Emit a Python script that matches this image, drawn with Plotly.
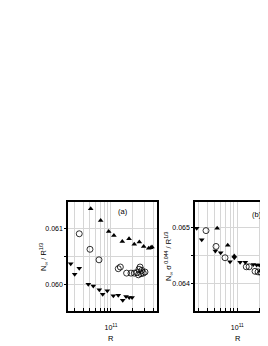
import plotly.graph_objects as go

# page body has an 8px default margin, so the figure is drawn 8px right/down
OFF = 8
W, H = 268 - OFF, 346 - OFF

# ---------------- data: panel (a) ----------------
a_up_R = [5.13e10, 7.12e10, 9.27e10, 1.10e11, 1.45e11, 1.81e11, 2.15e11, 2.54e11,
          2.93e11, 3.46e11, 3.69e11, 3.85e11]
a_up_N = [0.06136, 0.06115, 0.06095, 0.06088, 0.06077, 0.06082, 0.06072, 0.06076,
          0.06068, 0.06065, 0.06066, 0.06067]

a_circ_R = [3.52e10, 5.01e10, 6.74e10, 1.27e11, 1.36e11, 1.67e11, 1.93e11, 2.15e11,
            2.35e11, 2.51e11, 2.60e11, 2.75e11, 2.89e11, 2.68e11, 2.46e11, 3.06e11]
a_circ_N = [0.06091, 0.06063, 0.06044, 0.06028, 0.06031, 0.06020, 0.06020, 0.06020,
            0.06021, 0.06027, 0.06031, 0.06025, 0.06020, 0.06019, 0.06017, 0.06022]

a_down_R = [2.66e10, 3.03e10, 3.52e10, 4.74e10, 5.59e10, 6.81e10, 7.61e10, 8.85e10,
            1.08e11, 1.27e11, 1.47e11, 1.64e11, 1.82e11, 2.00e11]
a_down_N = [0.06037, 0.06018, 0.06029, 0.06000, 0.05997, 0.05990, 0.05982, 0.05988,
            0.05979, 0.05980, 0.05971, 0.05978, 0.05976, 0.05976]

# ---------------- data: panel (b) ----------------
b_up_R = [5.37e10, 7.44e10, 9.10e10, 2.02e11]
b_up_N = [0.06498, 0.06468, 0.06449, 0.06422]

b_circ_R = [3.80e10, 5.18e10, 6.84e10, 1.32e11, 1.44e11, 1.73e11, 1.90e11, 2.08e11,
            2.28e11, 2.43e11]
b_circ_N = [0.06494, 0.06466, 0.06446, 0.06430, 0.06430, 0.06422, 0.06421, 0.06420,
            0.06427, 0.06430]

b_down_R = [2.85e10, 3.33e10, 5.07e10, 5.98e10, 7.98e10, 9.12e10, 1.09e11, 1.28e11,
            1.64e11, 1.82e11, 1.97e11]
b_down_N = [0.06498, 0.06478, 0.06458, 0.06455, 0.06439, 0.06446, 0.06438, 0.06438,
            0.06434, 0.06433, 0.06433]

# ticks
minor_R = [d * 10.0**e for e in (10, 11) for d in range(1, 10)]
x_tick_text = ["10<sup>11</sup>" if v == 1e11 else "" for v in minor_R]
a_yticks = [0.0600, 0.0605, 0.0610]
a_ytext = ["0.060", "", "0.061"]
b_yticks = [0.0640, 0.0645, 0.0650]
b_ytext = ["0.064", "", "0.065"]

FONT = "Liberation Sans, Arial, sans-serif"


def px(x):
    return (x - OFF) / W


def py(y):
    return 1 - (y - OFF) / H


fig = go.Figure()


def add_series(R, N, sym, xa, ya, size, lw=0):
    fig.add_trace(go.Scatter(
        x=R, y=N, mode="markers", xaxis=xa, yaxis=ya, cliponaxis=False,
        marker=dict(symbol=sym, size=size, color="black",
                    line=dict(color="black", width=lw)),
        showlegend=False))


add_series(a_up_R, a_up_N, "triangle-up", "x", "y", 5)
add_series(a_circ_R, a_circ_N, "circle-open", "x", "y", 6, lw=0.8)
add_series(a_down_R, a_down_N, "triangle-down", "x", "y", 5)
add_series(b_up_R, b_up_N, "triangle-up", "x2", "y2", 5)
add_series(b_circ_R, b_circ_N, "circle-open", "x2", "y2", 6, lw=0.8)
add_series(b_down_R, b_down_N, "triangle-down", "x2", "y2", 5)

axis_common = dict(showline=True, linecolor="black", linewidth=1.5,
                   showgrid=True, gridcolor="#d6d6d6", gridwidth=1,
                   zeroline=False, automargin=False,
                   tickfont=dict(family=FONT, size=7, color="black"),
                   tickcolor="black", tickwidth=1)

y_bot, y_top = 311, 202

fig.update_layout(
    width=W, height=H, margin=dict(l=0, r=0, t=0, b=0),
    paper_bgcolor="white", plot_bgcolor="white",
    xaxis=dict(type="log", domain=[px(68), px(157)],
               range=[10.386, 11.657], tickmode="array", tickvals=minor_R,
               ticktext=x_tick_text, ticks="inside", ticklen=3, mirror=True,
               ticklabelstandoff=9, anchor="y", **axis_common),
    yaxis=dict(domain=[py(y_bot), py(y_top)], range=[0.059517, 0.061483],
               tickmode="array", tickvals=a_yticks, ticktext=a_ytext,
               ticks="outside", ticklen=2, mirror=True, anchor="x", **axis_common),
    xaxis2=dict(type="log", domain=[px(195), 1.0],
                range=[10.432, 11.412], tickmode="array", tickvals=minor_R,
                ticktext=x_tick_text, ticks="inside", ticklen=3, mirror=True,
                ticklabelstandoff=9, anchor="y2", **axis_common),
    yaxis2=dict(domain=[py(y_bot), py(y_top)], range=[0.063518, 0.065446],
                tickmode="array", tickvals=b_yticks, ticktext=b_ytext,
                ticks="outside", ticklen=2, mirror=False, anchor="x2", **axis_common),
)

ann_font = dict(family=FONT, size=7.5, color="black")


def ann(text, x, y, **kw):
    return dict(text=text, x=px(x), y=py(y), xref="paper", yref="paper",
                xanchor="center", yanchor="middle", showarrow=False,
                font=ann_font, **kw)


annotations = [
    ann("(a)", 123, 211),
    ann("(b)", 256.5, 214),
    ann("R", 110.5, 338),
    ann("R", 237.5, 338),
    ann("N<sub>∞</sub> / R<sup>1/3</sup>", 43, 257, textangle=-90),
    ann("N<sub>∞</sub> σ<sup> 0.044</sup> / R<sup>1/3</sup>", 168, 256,
        textangle=-90),
]
fig.update_layout(annotations=annotations)

fig.write_html("out.html")
